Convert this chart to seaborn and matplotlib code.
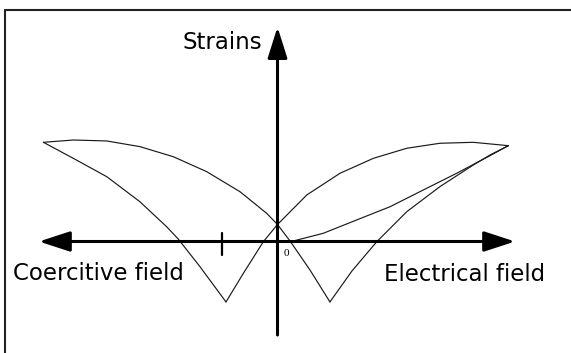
import matplotlib
matplotlib.use("Agg")
import matplotlib.pyplot as plt
import pandas as pd
import seaborn as sns

# butterfly loop, field E (1 = max field) vs strain S (1 = max strain)
upper_left_E = [-1.009, -0.880, -0.736, -0.593, -0.449, -0.305, -0.162, -0.047, 0.0, 0.054, 0.140, 0.226]
upper_left_S = [1.028, 1.052, 1.042, 0.983, 0.878, 0.722, 0.514, 0.289, 0.172, 0.0, -0.302, -0.635]

upper_right_E = [0.995, 0.844, 0.700, 0.557, 0.413, 0.269, 0.126, 0.0, -0.061, -0.147, -0.222]
upper_right_S = [0.993, 1.028, 1.018, 0.966, 0.861, 0.705, 0.479, 0.172, -0.007, -0.336, -0.635]

left_branch_E = [-0.222, -0.334, -0.428, -0.478, -0.593, -0.736, -0.880, -1.009]
left_branch_S = [-0.635, -0.268, 0.021, 0.149, 0.409, 0.670, 0.861, 1.028]

right_branch_E = [0.226, 0.321, 0.428, 0.557, 0.700, 0.844, 0.916, 0.995]
right_branch_S = [-0.635, -0.312, -0.007, 0.305, 0.566, 0.792, 0.896, 0.993]

virgin_E = [0.068, 0.197, 0.341, 0.485, 0.628, 0.772, 0.916, 0.995]
virgin_S = [0.0, 0.080, 0.219, 0.357, 0.531, 0.705, 0.889, 0.993]

coercive_E = -0.24

W, H = 571, 353
X0, Y0, SX, SY = 277.5, 241.0, 232.0, 96.0


def to_data(x, y):
    return (x - X0) / SX, (Y0 - y) / SY


def to_fig(x, y):
    return x / W, 1 - y / H


branches = [
    ("upper_left", upper_left_E, upper_left_S),
    ("upper_right", upper_right_E, upper_right_S),
    ("left_branch", left_branch_E, left_branch_S),
    ("right_branch", right_branch_E, right_branch_S),
    ("virgin", virgin_E, virgin_S),
]
df = pd.concat(
    [pd.DataFrame({"E": e, "S": s, "branch": name}) for name, e, s in branches],
    ignore_index=True,
)

sns.set_theme(style="white")
plt.rcParams["font.family"] = ["DejaVu Sans"]
plt.rcParams["text.color"] = "black"

fig = plt.figure(figsize=(W / 100, H / 100), dpi=100)
ax = fig.add_axes([0, 0, 1, 1])
xl, yb = to_data(0, H)
xr, yt = to_data(W, 0)
ax.set_xlim(xl, xr)
ax.set_ylim(yb, yt)
ax.axis("off")

sns.lineplot(data=df, x="E", y="S", units="branch", estimator=None, sort=False,
             color="#1a1a1a", linewidth=0.85, ax=ax, legend=False)

# axes arrows
ax.annotate("", xy=to_data(515, 241.5), xytext=to_data(39, 241.5),
            arrowprops=dict(arrowstyle="<|-|>,head_length=1.9,head_width=0.62", color="black",
                            lw=2.2, shrinkA=0, shrinkB=0, mutation_scale=10))
ax.annotate("", xy=to_data(277.5, 27), xytext=to_data(277.5, 335),
            arrowprops=dict(arrowstyle="-|>,head_length=1.9,head_width=0.6", color="black",
                            lw=2.2, shrinkA=0, shrinkB=0, mutation_scale=10))

# coercive field tick
ax.plot([coercive_E, coercive_E], [to_data(0, 233)[1], to_data(0, 255)[1]], color="black", lw=1.6)

# frame (top and left only)
ax.plot([to_data(5, 0)[0], to_data(W, 0)[0]], [to_data(0, 10)[1]] * 2, color="#222222", lw=1.5)
ax.plot([to_data(5, 0)[0]] * 2, [to_data(0, 10)[1], to_data(0, H)[1]], color="#222222", lw=1.5)

fig.text(*to_fig(183, 49), "Strains", fontsize=16.5, va="baseline", ha="left", color="black")
fig.text(*to_fig(13, 280), "Coercitive field", fontsize=16.5, va="baseline", ha="left", color="black")
fig.text(*to_fig(384, 281), "Electrical field", fontsize=16.5, va="baseline", ha="left", color="black")
fig.text(*to_fig(286, 253), "0", fontsize=8, family=["Liberation Serif"], va="center", ha="center",
         color="black")

fig.savefig("out.png", dpi=100, facecolor="white")
plt.close(fig)
